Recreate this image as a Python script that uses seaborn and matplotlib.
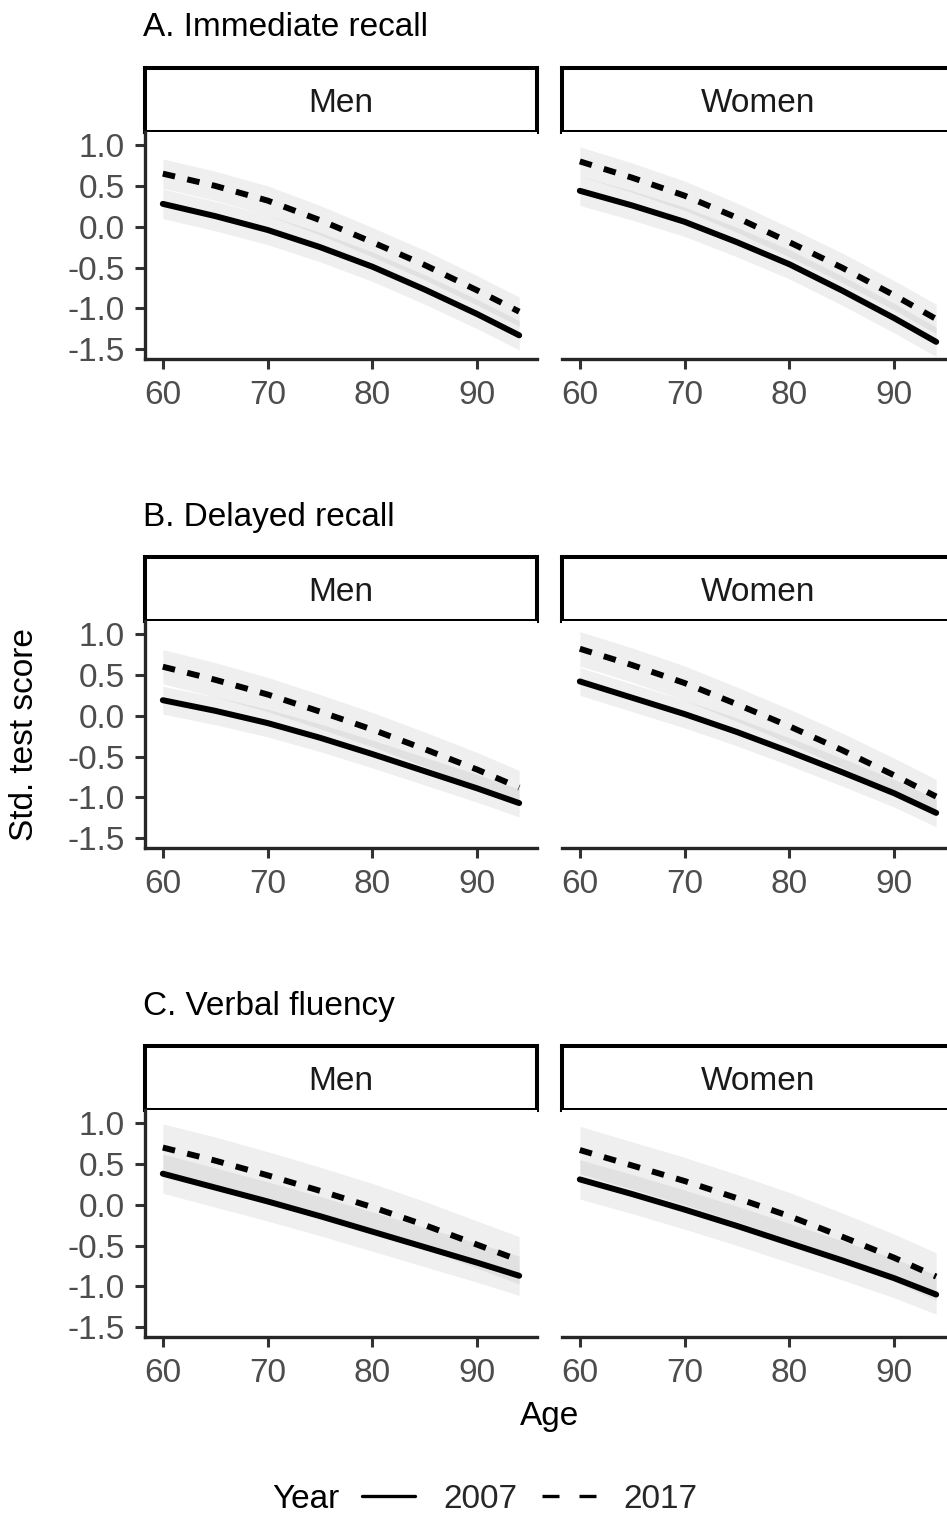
import matplotlib
matplotlib.use("Agg")
import matplotlib.pyplot as plt
from matplotlib.lines import Line2D
import numpy as np
import pandas as pd
import seaborn as sns

OUTPUT_PATH = "out.png"

AGES = [60, 65, 70, 75, 80, 85, 90, 94]
TESTS = ["A. Immediate recall", "B. Delayed recall", "C. Verbal fluency"]
SEXES = ["Men", "Women"]
YEARS = ["2007", "2017"]

# predicted standardized scores
imm_men_2007 = [0.28, 0.13, -0.04, -0.25, -0.49, -0.77, -1.07, -1.33]
imm_men_2017 = [0.65, 0.50, 0.32, 0.08, -0.19, -0.47, -0.78, -1.04]
imm_women_2007 = [0.44, 0.26, 0.06, -0.19, -0.46, -0.78, -1.12, -1.41]
imm_women_2017 = [0.80, 0.60, 0.38, 0.11, -0.19, -0.50, -0.84, -1.13]

del_men_2007 = [0.19, 0.06, -0.09, -0.27, -0.47, -0.68, -0.89, -1.07]
del_men_2017 = [0.60, 0.44, 0.26, 0.05, -0.17, -0.41, -0.66, -0.88]
del_women_2007 = [0.42, 0.22, 0.02, -0.20, -0.44, -0.69, -0.95, -1.19]
del_women_2017 = [0.82, 0.62, 0.40, 0.14, -0.13, -0.42, -0.73, -0.99]

flu_men_2007 = [0.38, 0.21, 0.04, -0.14, -0.33, -0.52, -0.71, -0.87]
flu_men_2017 = [0.70, 0.54, 0.36, 0.17, -0.03, -0.25, -0.49, -0.68]
flu_women_2007 = [0.31, 0.13, -0.06, -0.26, -0.47, -0.68, -0.90, -1.10]
flu_women_2017 = [0.67, 0.48, 0.29, 0.08, -0.14, -0.39, -0.65, -0.88]

# half width of the 95% CI ribbon (test x year)
ci_imm = [0.18, 0.18]
ci_del = [0.17, 0.21]
ci_flu = [0.24, 0.29]

Y_TICKS = [1.0, 0.5, 0.0, -0.5, -1.0, -1.5]
Y_TICK_LABELS = ["1.0", "0.5", "0.0", "-0.5", "-1.0", "-1.5"]
X_TICKS = [60, 70, 80, 90]

scores = {
    (TESTS[0], "Men"): [imm_men_2007, imm_men_2017],
    (TESTS[0], "Women"): [imm_women_2007, imm_women_2017],
    (TESTS[1], "Men"): [del_men_2007, del_men_2017],
    (TESTS[1], "Women"): [del_women_2007, del_women_2017],
    (TESTS[2], "Men"): [flu_men_2007, flu_men_2017],
    (TESTS[2], "Women"): [flu_women_2007, flu_women_2017],
}
ci_half = {TESTS[0]: ci_imm, TESTS[1]: ci_del, TESTS[2]: ci_flu}

rows = []
for (test, sex), series in scores.items():
    for year, vals in zip(YEARS, series):
        hw = ci_half[test][YEARS.index(year)]
        for age, v in zip(AGES, vals):
            rows.append({"test": test, "sex": sex, "year": year, "age": age,
                         "score": v, "lo": v - hw, "hi": v + hw})
df = pd.DataFrame(rows)

sns.set_theme(style="ticks")
plt.rcParams["font.family"] = ["Liberation Sans", "DejaVu Sans"]
plt.rcParams["axes.unicode_minus"] = False

FS = 24
W, H = 947, 1513
fig = plt.figure(figsize=(W / 100, H / 100), dpi=100)


def fx(px):
    return px / W


def fy(py):
    return 1 - py / H


STRIP_TOP = [68, 557, 1046]
STRIP_H = 64
PANEL_H = 227
COL_LEFT = [145, 562]
COL_W = 392

for r, test in enumerate(TESTS):
    st = STRIP_TOP[r]
    fig.text(fx(143), fy(st - 40), test, ha="left", va="center", fontsize=FS, color="black")
    for c, sex in enumerate(SEXES):
        left = COL_LEFT[c]
        # strip box
        sax = fig.add_axes([fx(left), fy(st + STRIP_H), COL_W / W, STRIP_H / H])
        sax.set_xticks([])
        sax.set_yticks([])
        for sp in sax.spines.values():
            sp.set_linewidth(2.9)
            sp.set_color("black")
        sax.text(0.5, 0.44, sex, ha="center", va="center", fontsize=FS,
                 color="#1A1A1A", transform=sax.transAxes)

        ax = fig.add_axes([fx(left), fy(st + STRIP_H + PANEL_H), COL_W / W, PANEL_H / H])
        sub = df[(df.test == test) & (df.sex == sex)]
        for year in YEARS:
            d = sub[sub.year == year]
            ax.fill_between(d.age, d.lo, d.hi, color="#808080", alpha=0.125, lw=0)
        sns.lineplot(data=sub, x="age", y="score", style="year", style_order=YEARS,
                     dashes={"2007": "", "2017": (2.1, 2.1)}, color="black",
                     linewidth=4.3, legend=False, ax=ax)
        ax.set_xlim(58.3, 95.7)
        ax.set_ylim(-1.62, 1.16)
        ax.set_xticks(X_TICKS)
        ax.set_xticklabels([str(t) for t in X_TICKS])
        ax.set_xlabel("")
        ax.set_ylabel("")
        ax.spines["top"].set_visible(False)
        ax.spines["right"].set_visible(False)
        ax.spines["bottom"].set_linewidth(2.4)
        ax.tick_params(axis="x", length=7.2, width=2.2, color="#333333",
                       labelsize=FS, labelcolor="#4D4D4D", pad=8)
        if c == 0:
            ax.spines["left"].set_linewidth(2.4)
            ax.set_yticks(Y_TICKS)
            ax.set_yticklabels(Y_TICK_LABELS)
            ax.tick_params(axis="y", length=7.2, width=2.2, color="#333333",
                           labelsize=FS, labelcolor="#4D4D4D", pad=7.5)
        else:
            ax.spines["left"].set_visible(False)
            ax.set_yticks([])

fig.text(fx(25), fy(735), "Std. test score", rotation=90, ha="center", va="center",
         fontsize=FS, color="black")
fig.text(fx(550), fy(1416), "Age", ha="center", va="center", fontsize=FS, color="black")

# legend
fig.text(fx(272), fy(1499), "Year", ha="left", va="center", fontsize=FS, color="black")
handles = [
    Line2D([0], [0], color="black", lw=2.4),
    Line2D([0], [0], color="black", lw=2.4, dashes=(5.1, 6.0)),
]
fig.legend(handles, YEARS, loc="center left", bbox_to_anchor=(fx(362), fy(1499)),
           ncol=2, frameon=False, fontsize=FS, handlelength=1.6,
           handletextpad=0.84, columnspacing=0.75, borderaxespad=0, borderpad=0)

plt.savefig(OUTPUT_PATH, dpi=100)
plt.close(fig)
